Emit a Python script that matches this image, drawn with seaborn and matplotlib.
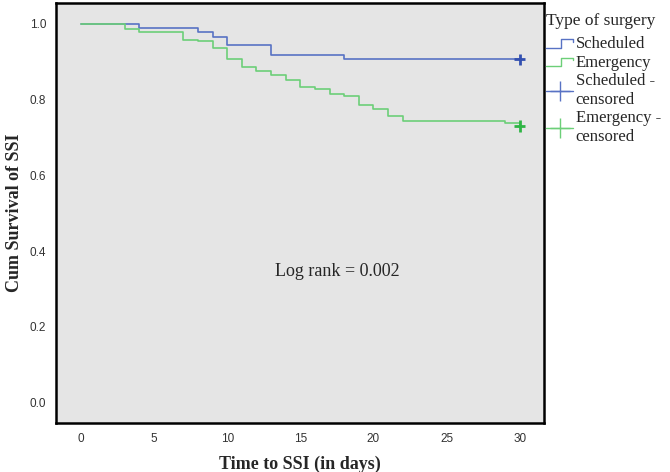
"""
Kaplan-Meier curves: time to SSI by type of surgery.
"""

import matplotlib
matplotlib.use("Agg")
import matplotlib.pyplot as plt
import pandas as pd
import seaborn as sns
from matplotlib.legend_handler import HandlerBase
from matplotlib.lines import Line2D

# ── Data ──────────────────────────────────────────────────────────────
sched_time = [0, 4, 8, 9, 10, 13, 18, 30]
sched_surv = [1.000, 0.989, 0.978, 0.966, 0.943, 0.918, 0.906, 0.906]

emerg_time = [0, 3, 4, 7, 8, 9, 10, 11, 12, 13, 14, 15, 16, 17, 18,
              19, 20, 21, 22, 29, 30]
emerg_surv = [1.000, 0.987, 0.978, 0.958, 0.954, 0.936, 0.906, 0.887,
              0.876, 0.864, 0.852, 0.833, 0.828, 0.816, 0.810, 0.786,
              0.775, 0.756, 0.743, 0.737, 0.731]

groups = ["Scheduled", "Emergency"]
censor_time = [30, 30]
censor_surv = [0.906, 0.731]

x_ticks = [0, 5, 10, 15, 20, 25, 30]
y_ticks = [0.0, 0.2, 0.4, 0.6, 0.8, 1.0]

line_colors = {"Scheduled": "#5872c4", "Emergency": "#6ccf78"}
mark_colors = {"Scheduled": "#3350b0", "Emergency": "#2fb545"}

df = pd.concat([
    pd.DataFrame({"time": sched_time, "surv": sched_surv, "group": "Scheduled"}),
    pd.DataFrame({"time": emerg_time, "surv": emerg_surv, "group": "Emergency"}),
])
cens = pd.DataFrame({"time": censor_time, "surv": censor_surv, "group": groups})


class StepHandler(HandlerBase):
    """Little step glyph used for the survival lines in the legend."""

    def __init__(self, color):
        super().__init__()
        self.color = color

    def create_artists(self, legend, orig_handle, xd, yd, width, height,
                       fontsize, trans):
        xs = [xd, xd + width * 0.55, xd + width * 0.55, xd + width, xd + width]
        ys = [yd + height * 0.05, yd + height * 0.05, yd + height * 0.8,
              yd + height * 0.8, yd + height * 0.55]
        ln = Line2D(xs, ys, color=self.color, lw=1.0, transform=trans)
        return [ln]


# ── Plot ──────────────────────────────────────────────────────────────
sns.set_style("white")
fig = plt.figure(figsize=(6.7, 4.72), dpi=100)
ax = fig.add_axes([0.0836, 0.1038, 0.728, 0.889])
ax.set_facecolor("#e5e5e5")

sns.lineplot(data=df, x="time", y="surv", hue="group", palette=line_colors,
             estimator=None, sort=False, drawstyle="steps-post", lw=1.2,
             legend=False, ax=ax)
sns.scatterplot(data=cens, x="time", y="surv", hue="group", palette=mark_colors,
                marker="+", s=70, linewidth=2.0, legend=False, ax=ax, zorder=5)

ax.set_xlim(-1.71, 31.65)
ax.set_ylim(-0.054, 1.054)
ax.set_xticks(x_ticks)
ax.set_yticks(y_ticks)
ax.set_xticklabels([str(t) for t in x_ticks])
ax.set_yticklabels([f"{t:.1f}" for t in y_ticks])
ax.tick_params(axis="both", direction="out", length=5, width=1.5, color="#222222",
               labelsize=8.5, labelcolor="#333333", pad=2)
for lbl in ax.get_xticklabels() + ax.get_yticklabels():
    lbl.set_fontfamily("Liberation Sans")

for sp in ax.spines.values():
    sp.set_visible(True)
    sp.set_color("black")
    sp.set_linewidth(1.8)

ax.set_xlabel("Time to SSI (in days)", family="Liberation Serif",
              fontweight="bold", fontsize=13, labelpad=8)
ax.set_ylabel("Cum Survival of SSI", family="Liberation Serif",
              fontweight="bold", fontsize=13, labelpad=5)

ax.text(17.5, 0.345, "Log rank = 0.002", family="Liberation Serif",
        fontsize=13, ha="center", va="center")

# ── Legend ────────────────────────────────────────────────────────────
h_sched = Line2D([], [], color=line_colors["Scheduled"])
h_emerg = Line2D([], [], color=line_colors["Emergency"])
h_sched_c = Line2D([], [], color=line_colors["Scheduled"], lw=1.0, marker="+",
                   markersize=14, markeredgewidth=1.0,
                   markeredgecolor=line_colors["Scheduled"])
h_emerg_c = Line2D([], [], color=line_colors["Emergency"], lw=1.0, marker="+",
                   markersize=14, markeredgewidth=1.0,
                   markeredgecolor=line_colors["Emergency"])

leg = fig.legend(
    [h_sched, h_emerg, h_sched_c, h_emerg_c],
    ["Scheduled", "Emergency", "Scheduled -\ncensored", "Emergency -\ncensored"],
    handler_map={h_sched: StepHandler(line_colors["Scheduled"]),
                 h_emerg: StepHandler(line_colors["Emergency"])},
    title="Type of surgery", loc="upper left", bbox_to_anchor=(0.813, 0.975),
    frameon=False, prop={"family": "Liberation Serif", "size": 12},
    title_fontproperties={"family": "Liberation Serif", "size": 12.5},
    handlelength=1.6, handleheight=0.7, handletextpad=0.15, labelspacing=0.15,
    borderaxespad=0, borderpad=0.1,
)
leg._legend_box.align = "left"
leg._legend_box.sep = 5

fig.savefig("out.png", dpi=100)
